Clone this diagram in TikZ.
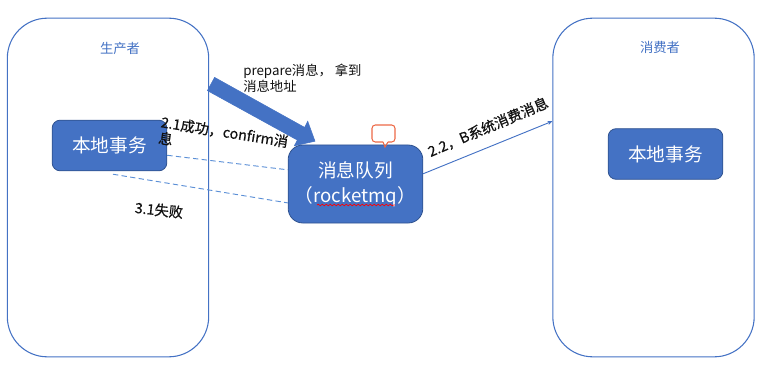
\documentclass[tikz,border=0pt]{standalone}
\usepackage{fontspec}
\setmainfont{Noto Sans CJK SC}
\newfontfamily\heavyfont{Noto Sans CJK SC}[FakeBold=0.6]
\usetikzlibrary{arrows.meta,decorations.pathmorphing,calc}
\definecolor{accent}{HTML}{4472C4}
\definecolor{accentdark}{HTML}{2F528F}
\definecolor{dashblue}{HTML}{5B8FD6}
\definecolor{note}{RGB}{237,105,70}
\definecolor{ink}{HTML}{111111}
\begin{document}
\begin{tikzpicture}[x=0.75pt,y=-0.75pt,
  frame/.style={draw=accent, line width=0.8pt, rounded corners=30pt,
    minimum width=151pt, minimum height=254pt, inner sep=0pt},
  frametitle/.style={text=accent, font=\fontsize{10}{12}\selectfont, inner sep=0pt},
  task/.style={draw=accentdark, line width=0.6pt, fill=accent, rounded corners=6pt,
    text=white, font=\fontsize{14}{16}\selectfont, inner sep=0pt,
    minimum width=86pt, minimum height=38pt},
  queue/.style={draw=accentdark, line width=0.6pt, fill=accent, rounded corners=11pt,
    text=white, font=\fontsize{14}{19}\selectfont, inner sep=0pt, align=center,
    minimum width=101pt, minimum height=58.5pt},
  label/.style={text=ink, font=\fontsize{10}{11.5}\selectfont, inner sep=0pt, align=left},
  steplabel/.style={text=ink, font=\heavyfont\fontsize{10.7}{12}\selectfont, inner sep=0pt, align=left},
  link/.style={draw=dashblue, line width=0.7pt, dash pattern=on 4pt off 2.5pt},
  fatarrow/.style={fill=accent, draw=accent, line width=0.4pt, line join=miter}
]
\useasboundingbox (0,0) rectangle (770,367);

% producer and consumer containers
\node[frame] (producer) at (108,187.5) {};
\node[frame] (consumer) at (653.5,187.5) {};
\node[frametitle] (ptitle) at (120,48) {生产者};
\node[frametitle] (ctitle) at (660,47) {消费者};

% prepare step: block arrow from the producer towards the queue
\coordinate (prepTail) at (211,84);
\coordinate (prepTip) at (315,141.2);
\draw[fatarrow] (207.4,90.6) -- (214.6,77.4) -- (304.6,127.4) -- (307.7,121.2)
  -- (prepTip) -- (294.3,145.8) -- (297.4,140.1) -- cycle;
\node[label, anchor=north west] (preptxt) at (243,64) {prepare消息， 拿到\\消息地址};

% local transactions and the message queue
\node[task] (pl) at (109.5,145.5) {本地事务};
\node[task] (cl) at (665.5,154) {本地事务};
\node[queue] (q) at (355.5,184) {消息队列\\（rocketmq）};

% spell-check squiggle under "rocketmq"
\draw[red, line width=0.5pt, decorate,
  decoration={snake, amplitude=0.6pt, segment length=3pt}]
  (317,205) -- (395,205);

% small comment callout above the queue
\draw[note, line width=0.8pt, rounded corners=2.5pt]
  (383,142) -- (372,142) -- (372,125) -- (395,125) -- (395,142) -- (388,142);
\draw[note, line width=0.8pt] (383,142) -- (385,147) -- (388,142);

% confirm / failure paths
\coordinate (ok1) at ($(pl.north east)!0.69!(pl.south east)$);
\coordinate (ok2) at ($(q.north west)!0.32!(q.south west)$);
\coordinate (bad1) at ($(pl.south)+(3.5,3)$);
\coordinate (bad2) at ($(q.north west)!0.74!(q.south west)$);
\draw[link] (ok1) -- (ok2);
\draw[link] (bad1) -- (bad2);
\node[steplabel, anchor=north west, rotate=-9] (oktxt) at (162,115) {2.1成功，confirm消\\息};
\node[steplabel, rotate=-6] (badtxt) at (159,210) {3.1失败};

% consumption by system B
\coordinate (qout) at ($(q.north east)!0.37!(q.south east)$);
\coordinate (cin) at ($(consumer.north west)!0.305!(consumer.south west)$);
\draw[accent, line width=0.7pt, -{Stealth[length=3.5pt,width=3pt]}] (qout) -- (cin);
\node[steplabel, rotate=23] (constxt) at (488,127) {2.2，B系统消费消息};
\end{tikzpicture}
\end{document}
